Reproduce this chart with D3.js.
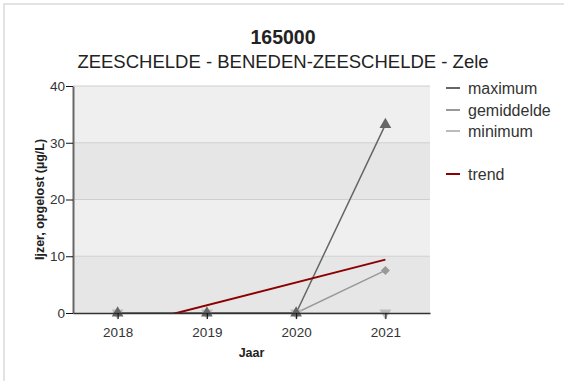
<!DOCTYPE html>
<html>
<head>
<meta charset="utf-8">
<script src="https://cdn.jsdelivr.net/npm/d3@7"></script>
<style>
  body { margin: 0; background: #fff; }
  svg text { font-family: "Liberation Sans", Arial, sans-serif; }
</style>
</head>
<body>
<div id="viz"></div>
<script>
var years = [2018, 2019, 2020, 2021],
    maximum = [0, 0, 0, 33.2],
    gemiddelde = [0, 0, 0, 7.5],
    minimum = [0, 0, 0, 0],
    trendYears = [2018, 2021],
    trendValues = [-2.65, 9.4],
    yTicks = [0, 10, 20, 30, 40];

var W = 564, H = 381,
    margin = {top: 86, left: 73, right: 134, bottom: 68},
    width = W - margin.left - margin.right,
    height = H - margin.top - margin.bottom;

var svg = d3.select("#viz").append("svg")
    .attr("width", W)
    .attr("height", H);

// outer frame
svg.append("rect")
    .attr("x", 4).attr("y", 4)
    .attr("width", W + 10).attr("height", H + 10)
    .attr("fill", "none")
    .attr("stroke", "#e3e3e3")
    .attr("stroke-width", 2);

svg.append("text")
    .attr("x", 283).attr("y", 44)
    .attr("text-anchor", "middle")
    .style("font-size", "19.5px").style("font-weight", "bold")
    .attr("fill", "#222")
    .text("165000");

svg.append("text")
    .attr("x", 283).attr("y", 68)
    .attr("text-anchor", "middle")
    .style("font-size", "18.5px")
    .attr("fill", "#222")
    .text("ZEESCHELDE - BENEDEN-ZEESCHELDE - Zele");

var g = svg.append("g")
    .attr("transform", "translate(" + margin.left + "," + margin.top + ")");

var x = d3.scalePoint().domain(years).range([0, width]).padding(0.5),
    y = d3.scaleLinear().domain([0, 40]).range([height, 0]),
    xLin = d3.scaleLinear()
        .domain([years[0], years[years.length - 1]])
        .range([x(years[0]), x(years[years.length - 1])]);

// alternating bands
d3.pairs(yTicks).forEach(function(p, i){
    g.append("rect")
        .attr("x", 0).attr("y", y(p[1]))
        .attr("width", width).attr("height", y(p[0]) - y(p[1]))
        .attr("fill", i % 2 == 0 ? "#e6e6e6" : "#efefef");
});

g.selectAll(".grid").data(yTicks.slice(1)).enter().append("line")
    .attr("x1", 0).attr("x2", width)
    .attr("y1", function(d){ return y(d); })
    .attr("y2", function(d){ return y(d); })
    .attr("stroke", "#cfcfcf");

g.append("clipPath").attr("id", "clip").append("rect")
    .attr("x", 0).attr("y", 0).attr("width", width).attr("height", height);

// diamond = square turned 45 degrees
var series = [
    {name: "maximum", values: maximum, color: "#666666", symbol: d3.symbolTriangle, rot: 0, size: 60},
    {name: "gemiddelde", values: gemiddelde, color: "#999999", symbol: d3.symbolSquare, rot: 45, size: 40},
    {name: "minimum", values: minimum, color: "#bbbbbb", symbol: d3.symbolTriangle, rot: 180, size: 60}
];

var line = d3.line()
    .x(function(d, i){ return x(years[i]); })
    .y(function(d){ return y(d); });

series.slice().reverse().forEach(function(s){
    g.append("path")
        .attr("d", line(s.values))
        .attr("fill", "none")
        .attr("stroke", s.color)
        .attr("stroke-width", 1.5);
});

// trend line
g.append("path")
    .attr("clip-path", "url(#clip)")
    .attr("d", d3.line()
        .x(function(d, i){ return xLin(trendYears[i]); })
        .y(function(d){ return y(d); })(trendValues))
    .attr("fill", "none")
    .attr("stroke", "#8b0000")
    .attr("stroke-width", 2);

series.slice().reverse().forEach(function(s){
    g.selectAll(null).data(s.values).enter().append("path")
        .attr("d", d3.symbol().type(s.symbol).size(s.size))
        .attr("transform", function(d, i){
            return "translate(" + x(years[i]) + "," + y(d) + ") rotate(" + s.rot + ")";
        })
        .attr("fill", s.color);
});

// axes
var yAxis = g.append("g")
    .call(d3.axisLeft(y).tickValues(yTicks).tickSize(7).tickSizeOuter(0));
yAxis.select(".domain").attr("stroke", "#666").attr("stroke-width", 2);
yAxis.selectAll(".tick line").attr("stroke", "#111");
yAxis.selectAll("text").style("font-size", "13.5px").attr("fill", "#333").attr("x", -8);

var xAxis = g.append("g")
    .attr("transform", "translate(0," + height + ")")
    .call(d3.axisBottom(x).tickSize(6).tickSizeOuter(0));
xAxis.select(".domain").attr("stroke", "#333").attr("stroke-width", 1.5);
xAxis.selectAll(".tick line").attr("stroke", "#111");
xAxis.selectAll("text").style("font-size", "13.5px").attr("fill", "#333").attr("y", 14).attr("dy", "0.71em");

svg.append("text")
    .attr("x", margin.left + width / 2).attr("y", 357)
    .attr("text-anchor", "middle")
    .style("font-size", "12.5px").style("font-weight", "bold")
    .attr("fill", "#222")
    .text("Jaar");

svg.append("text")
    .attr("transform", "translate(44," + (margin.top + height / 2) + ") rotate(-90)")
    .attr("text-anchor", "middle")
    .style("font-size", "12.5px").style("font-weight", "bold")
    .attr("fill", "#222")
    .text("Ijzer, opgelost (µg/L)");

// legend
var legendItems = [
    {name: "maximum", color: "#666666", y: 88},
    {name: "gemiddelde", color: "#999999", y: 110},
    {name: "minimum", color: "#bbbbbb", y: 131},
    {name: "trend", color: "#8b0000", y: 174}
];
var lg = svg.append("g").selectAll("g").data(legendItems).enter().append("g")
    .attr("transform", function(d){ return "translate(446," + d.y + ")"; });
lg.append("line").attr("x1", 0).attr("x2", 14)
    .attr("stroke", function(d){ return d.color; }).attr("stroke-width", 2);
lg.append("text").attr("x", 22).attr("dy", "0.35em")
    .style("font-size", "16px").attr("fill", "#333")
    .text(function(d){ return d.name; });
</script>
</body>
</html>
